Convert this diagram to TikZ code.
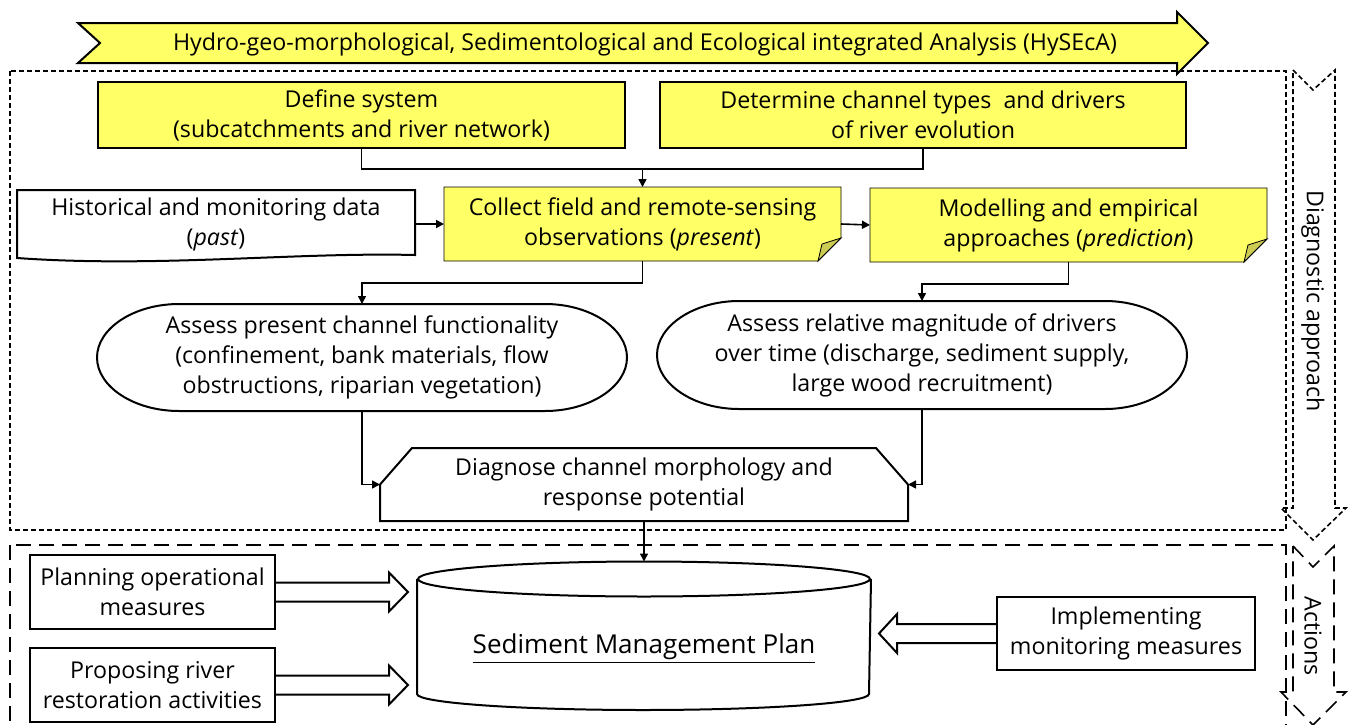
\documentclass[tikz,border=0pt]{standalone}
\usepackage{fontspec}
\setmainfont{Open Sans}
\usepackage{tikz}
\usetikzlibrary{shapes,arrows.meta,positioning,calc,backgrounds}
\definecolor{hyellow}{RGB}{255,255,102}
\definecolor{hfold}{RGB}{204,204,82}

\begin{document}
\begin{tikzpicture}[x=0.5pt, y=-0.5pt, font=\fontsize{11.6}{15}\selectfont, line width=1pt,
    >={Triangle[length=4pt,width=4pt]},
    box/.style={draw, align=center, inner sep=0pt},
    plain/.style={align=center, inner sep=0pt},
    link/.style={line width=0.8pt},
    fine dash/.style={line width=0.8pt, dash pattern=on 2.5pt off 1.5pt},
    long dash/.style={line width=0.8pt, dash pattern=on 7.5pt off 4pt}]
    \useasboundingbox (0,0) rectangle (1351,724);

    % Banner
    \draw[fill=hyellow] (78,23) -- (1177,23) -- (1177,12) -- (1208,43) -- (1177,74) -- (1177,63) -- (78,63) -- (100,43) -- cycle;
    \node[plain] (banner) at (645,44) {Hydro-geo-morphological, Sedimentological and Ecological integrated Analysis (HySEcA)};

    % Frames
    \draw[fine dash] (10,71) rectangle (1286,530);
    \draw[long dash] (10,545) rectangle (1286,740);
    \draw[fine dash] (1293,70) -- (1313,90) -- (1335,70) -- (1335,508) -- (1346,508) -- (1313,540) -- (1281,508) -- (1293,508) -- cycle;
    \node[rotate=-90] (diagnostic) at (1313,301) {Diagnostic approach};
    \draw[long dash] (1293,546) -- (1313,567) -- (1334,546) -- (1334,692) -- (1346,692) -- (1313,725) -- (1281,692) -- (1293,692) -- cycle;
    \node[rotate=-90] (actions) at (1313,636) {Actions};

    % Diagnostic steps
    \node[box, fill=hyellow, minimum width=263.5pt, minimum height=33pt] (define) at (361.5,115) {Define system\\(subcatchments and river network)};
    \node[box, fill=hyellow, minimum width=263pt, minimum height=33pt] (drivers) at (923,115) {Determine channel types\ \ and drivers\\of river evolution};
    \node[plain, minimum width=198pt, minimum height=33pt] (hist) at (216,224) {Historical and monitoring data\\(\textit{past})};
    \draw (hist.north west) -- (hist.north east) -- ([yshift=1.5pt]hist.south east) .. controls +(-120,-3) and +(140,10) .. (hist.south west) -- cycle;
    \node[plain, minimum width=197.5pt, minimum height=36pt] (collect) at (642.5,224) {Collect field and remote-sensing\\observations (\textit{present})};
    \node[plain, minimum width=197.5pt, minimum height=36pt] (model) at (1068.5,225) {Modelling and empirical\\approaches (\textit{prediction})};
    \begin{scope}[on background layer]
        \foreach \n in {collect,model}{
            \draw[fill=hyellow] (\n.north west) -- (\n.north east) -- ([yshift=11.5pt]\n.south east) -- ([xshift=-11.5pt]\n.south east) -- (\n.south west) -- cycle;
            \draw[fill=hfold] ([yshift=11.5pt]\n.south east) -- ([xshift=-9.5pt,yshift=8.5pt]\n.south east) -- ([xshift=-11.5pt]\n.south east) -- cycle;
        }
    \end{scope}
    \node[plain, minimum width=264pt, minimum height=52.5pt] (present) at (362,357.5) {Assess present channel functionality\\(confinement, bank materials, flow\\obstructions, riparian vegetation)};
    \node[plain, minimum width=264pt, minimum height=53pt] (magnitude) at (922,355) {Assess relative magnitude of drivers\\over time (discharge, sediment supply,\\large wood recruitment)};
    \foreach \n in {present,magnitude}
        \draw ([xshift=41pt]\n.north west) -- ([xshift=-41pt]\n.north east) .. controls +(22.6pt,0pt) and +(0pt,14.5pt) .. (\n.east) .. controls +(0pt,-14.5pt) and +(22.6pt,0pt) .. ([xshift=-41pt]\n.south east) -- ([xshift=41pt]\n.south west) .. controls +(-22.6pt,0pt) and +(0pt,-14.5pt) .. (\n.west) .. controls +(0pt,14.5pt) and +(-22.6pt,0pt) .. ([xshift=41pt]\n.north west) -- cycle;
    \node[plain, minimum width=263pt, minimum height=35.5pt] (diagnose) at (644,484.5) {Diagnose channel morphology and\\response potential};
    \draw (diagnose.south west) -- (diagnose.west) -- ([xshift=16pt]diagnose.north west) -- ([xshift=-16pt]diagnose.north east) -- (diagnose.east) -- (diagnose.south east) -- cycle;

    % Actions
    \node[plain, font=\fontsize{13}{15}\selectfont, minimum width=226pt, minimum height=44pt] (plan) at (644,649) {\underline{Sediment Management Plan}};
    \draw ([yshift=12.5pt]plan.north) ellipse [x radius=113pt, y radius=8.75pt];
    \draw ([yshift=12.5pt]plan.north west) -- (plan.south west) arc[start angle=180, end angle=360, x radius=113pt, y radius=8pt] -- ([yshift=12.5pt]plan.north east);
    \coordinate (plan top) at ([yshift=21.25pt]plan.north);
    \node[box, minimum width=122.5pt, minimum height=37pt] (planning) at (152.5,592) {Planning operational\\measures};
    \node[box, minimum width=122.5pt, minimum height=37pt] (proposing) at (152.5,685) {Proposing river\\restoration activities};
    \node[box, minimum width=129pt, minimum height=36.5pt] (implement) at (1126,633.5) {Implementing\\monitoring measures};
    \foreach \n in {planning,proposing}
        \draw (\n.east) ++(0,-9.5) -- ++(113,0) -- ++(0,-10) -- ++(19,19.5) -- ++(-19,19.5) -- ++(0,-10) -- ++(-113,0);
    \draw (implement.west) ++(0,-9.5) -- ++(-99,0) -- ++(0,-10) -- ++(-18,19.5) -- ++(18,19.5) -- ++(0,-10) -- ++(99,0);

    % Links
    \coordinate (top join) at (642.5,168);
    \draw[link] (define.south) -- ++(0,20) -| (drivers.south);
    \draw[link, ->] (top join) -- (collect.north);
    \draw[link, ->] (hist.east) -- (collect.west);
    \draw[link, ->] (collect.east) -- (model.west);
    \draw[link, ->] (collect.south) -- ++(0,22) -| (present.north);
    \draw[link, ->] (model.south) -- ++(0,22) -| (magnitude.north);
    \draw[link, ->] (present.south) |- (diagnose.west);
    \draw[link, ->] (magnitude.south) |- (diagnose.east);
    \draw[link, ->] (diagnose.south) -- (plan top);
\end{tikzpicture}
\end{document}
